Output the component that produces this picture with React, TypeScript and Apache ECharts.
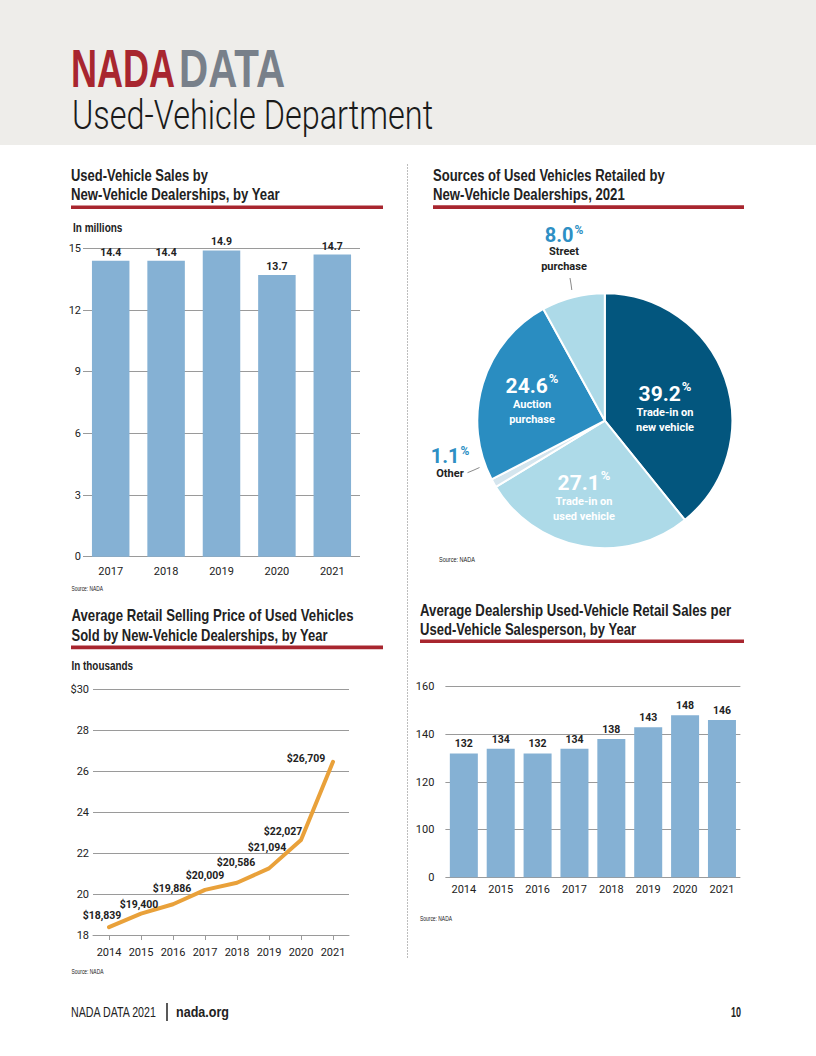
import React, { useEffect, useRef } from "react";
import * as echarts from "echarts";

// ---------- data ----------
const salesYears = ["2017", "2018", "2019", "2020", "2021"];
const salesValues = [14.4, 14.4, 14.9, 13.7, 14.7];

const sourceNames = [
  "Trade-in on\nnew vehicle",
  "Trade-in on\nused vehicle",
  "Other",
  "Auction\npurchase",
  "Street\npurchase",
];
const sourceValues = [39.2, 27.1, 1.1, 24.6, 8.0];

const priceYears = ["2014", "2015", "2016", "2017", "2018", "2019", "2020", "2021"];
// positions of the drawn line (in thousands)
const priceValues = [18.38, 19.04, 19.5, 20.2, 20.55, 21.25, 22.63, 26.45];
// printed labels
const priceLabels = ["$18,839", "$19,400", "$19,886", "$20,009", "$20,586", "$21,094", "$22,027", "$26,709"];

const perYears = ["2014", "2015", "2016", "2017", "2018", "2019", "2020", "2021"];
const perValues = [132, 134, 132, 134, 138, 143, 148, 146];
const perTicks = [0, 100, 120, 140, 160];

// ---------- styling ----------
const HEAD = "'Liberation Sans', Arial, sans-serif";
const LBL = "Roboto, 'Liberation Sans', sans-serif";
const LIGHT = "Roboto, 'Liberation Sans', sans-serif";
const RED = "#A8262F";
const INK = "#222";
const GRID = "#9a9a9a";
const BAR = "#85B1D4";
const PIE_COLORS = ["#03567E", "#ADDAE8", "#D4E5EE", "#2A8DC1", "#ADDAE8"];
const PIE_BLUE = "#2E8FC4";

let measureCtx: CanvasRenderingContext2D | null = null;
function measure(text: string, font: string) {
  if (!measureCtx) measureCtx = document.createElement("canvas").getContext("2d");
  if (!measureCtx) return 0;
  measureCtx.font = font;
  return measureCtx.measureText(text).width;
}

function txt(
  text: string,
  x: number,
  y: number,
  o: { size: number; weight?: string | number; color?: string; family?: string; width?: number; align?: string }
) {
  const family = o.family || HEAD;
  const weight = o.weight ?? "normal";
  const font = `${weight} ${o.size}px ${family}`;
  let sx = 1;
  if (o.width) {
    const w = measure(text, font);
    if (w > 0) sx = o.width / w;
  }
  return {
    type: "text",
    x,
    y,
    scaleX: sx,
    silent: true,
    style: {
      text,
      x: 0,
      y: 0,
      font,
      fill: o.color || INK,
      align: o.align || "left",
      textAlign: o.align || "left",
      verticalAlign: "middle",
      textVerticalAlign: "middle",
    },
  };
}

function rule(x1: number, x2: number, y: number) {
  return { type: "rect", silent: true, shape: { x: x1, y, width: x2 - x1, height: 3.6 }, style: { fill: RED } };
}

// broken axis mapping for the salesperson chart
function toBroken(v: number) {
  for (let i = 0; i < perTicks.length - 1; i++) {
    if (v <= perTicks[i + 1]) return i + (v - perTicks[i]) / (perTicks[i + 1] - perTicks[i]);
  }
  return perTicks.length - 1;
}

// pie label anchors (label block centres)
const PIE_LABEL_POS: number[][] = [
  [665, 404],
  [584, 493],
  [450, 461],
  [532, 396],
  [564, 247],
];
const PIE_LEADERS: Record<number, number[][]> = {
  2: [
    [479.5, 467.5],
    [474, 470],
    [467.5, 472.7],
  ],
  4: [
    [571.8, 290],
    [571, 284],
    [570, 278],
  ],
};
// fine label shifts on the line chart
const PRICE_LABEL_SHIFT: number[][] = [
  [-7, -1],
  [-2, 2],
  [-1, -5],
  [0, -3],
  [-1, -9],
  [-2, -10],
  [-18, 2],
  [-27, 8],
];

function buildOption() {
  const axisLabelStyle = { fontFamily: LBL, fontSize: 11, color: INK };
  const barLabel = {
    show: true,
    position: "top",
    distance: 3,
    fontFamily: LBL,
    fontWeight: "bold",
    fontSize: 10.5,
    color: INK,
  };

  const graphic: any[] = [
    // header band
    { type: "rect", silent: true, shape: { x: 0, y: 0, width: 816, height: 145 }, style: { fill: "#EEEDEA" } },
    txt("NADA", 71, 68, { size: 54, weight: "bold", color: RED, width: 104 }),
    txt("DATA", 179, 68, { size: 54, weight: "bold", color: "#78808A", width: 106 }),
    txt("Used-Vehicle Department", 72, 115, { size: 40, weight: 300, family: LIGHT, color: "#1a1a1a", width: 361 }),

    // separator
    {
      type: "line",
      silent: true,
      shape: { x1: 407.5, y1: 164, x2: 407.5, y2: 959 },
      style: { stroke: "#bdbdbd", lineWidth: 1, lineDash: [2, 1] },
    },

    // top-left chart texts
    txt("Used-Vehicle Sales by", 71, 175.5, { size: 16, weight: "bold", width: 137 }),
    txt("New-Vehicle Dealerships, by Year", 71, 194.5, { size: 16, weight: "bold", width: 209 }),
    rule(71, 383, 205.5),
    txt("In millions", 73, 227.5, { size: 12, weight: "bold", width: 49.5 }),
    txt("Source: NADA", 71.5, 588.5, { size: 7, width: 31.5 }),

    // pie texts
    txt("Sources of Used Vehicles Retailed by", 433, 176, { size: 16, weight: "bold", width: 232 }),
    txt("New-Vehicle Dealerships, 2021", 433, 194.5, { size: 16, weight: "bold", width: 192 }),
    rule(433, 744, 205.3),
    txt("Source: NADA", 439, 559, { size: 7, width: 36 }),

    // line chart texts
    txt("Average Retail Selling Price of Used Vehicles", 71.5, 616, { size: 16, weight: "bold", width: 282.5 }),
    txt("Sold by New-Vehicle Dealerships, by Year", 71.5, 635.5, { size: 16, weight: "bold", width: 256.5 }),
    rule(71, 383, 645.6),
    txt("In thousands", 71.5, 665.5, { size: 12, weight: "bold", width: 61.5 }),
    txt("Source: NADA", 71.5, 971.7, { size: 7, width: 32 }),

    // salesperson chart texts
    txt("Average Dealership Used-Vehicle Retail Sales per", 420, 611, { size: 16, weight: "bold", width: 311.5 }),
    txt("Used-Vehicle Salesperson, by Year", 420, 629.5, { size: 16, weight: "bold", width: 216.5 }),
    rule(420, 744, 639.5),
    txt("Source: NADA", 420, 919, { size: 7, width: 32 }),

    // footer
    txt("NADA DATA 2021", 71, 1012, { size: 14, width: 86 }),
    {
      type: "line",
      silent: true,
      shape: { x1: 167, y1: 1003, x2: 167, y2: 1021 },
      style: { stroke: "#222", lineWidth: 1.5 },
    },
    txt("nada.org", 176, 1012, { size: 14, weight: "bold", width: 53 }),
    txt("10", 741, 1012, { size: 14, weight: "bold", width: 10, align: "right" }),
  ];

  const pieData = sourceValues.map((v, i) => {
    const outside = v < 10;
    return {
      value: v,
      name: sourceNames[i],
      itemStyle: { color: PIE_COLORS[i] },
      label: outside
        ? {
            position: "outside",
            rich: {
              num: { fontFamily: LBL, fontWeight: "bold", fontSize: 20, color: PIE_BLUE, lineHeight: 24, verticalAlign: "bottom" },
              pct: { fontFamily: LBL, fontWeight: "bold", fontSize: 12, color: PIE_BLUE, lineHeight: 12, verticalAlign: "bottom", padding: [0, 0, 9, 1] },
              txt: { fontFamily: LBL, fontWeight: "bold", fontSize: 11, color: INK, lineHeight: 14.5 },
            },
          }
        : {
            position: "inside",
            rich: {
              num: { fontFamily: LBL, fontWeight: "bold", fontSize: 21, color: "#fff", lineHeight: 31, verticalAlign: "bottom" },
              pct: { fontFamily: LBL, fontWeight: "bold", fontSize: 13, color: "#fff", lineHeight: 13, verticalAlign: "bottom", padding: [0, 0, 12, 1] },
              txt: { fontFamily: LBL, fontWeight: "bold", fontSize: 11, color: "#fff", lineHeight: 15 },
            },
          },
      labelLine: outside
        ? { show: true, length: 5, length2: 5, lineStyle: { color: "#8a8a8a", width: 1 } }
        : { show: false },
    };
  });

  return {
    animation: false,
    graphic,
    grid: [
      { left: 83, top: 248.4, width: 277, height: 308.3 },
      { left: 93, top: 689, width: 256, height: 246 },
      { left: 445.4, top: 686.7, width: 295, height: 190.6 },
    ],
    xAxis: [
      {
        gridIndex: 0,
        type: "category",
        data: salesYears,
        axisLine: { show: false },
        axisTick: { show: false },
        axisLabel: { ...axisLabelStyle, margin: 9 },
      },
      {
        gridIndex: 1,
        type: "category",
        data: priceYears,
        boundaryGap: true,
        axisLine: { show: true, lineStyle: { color: GRID } },
        axisTick: { show: true, alignWithLabel: true, length: 5, lineStyle: { color: GRID } },
        axisLabel: { ...axisLabelStyle, margin: 12, interval: 0 },
      },
      {
        gridIndex: 2,
        type: "category",
        data: perYears,
        axisLine: { show: false },
        axisTick: { show: false },
        axisLabel: { ...axisLabelStyle, margin: 7, interval: 0 },
      },
    ],
    yAxis: [
      {
        gridIndex: 0,
        type: "value",
        min: 0,
        max: 15,
        interval: 3,
        axisLine: { show: false },
        axisTick: { show: false },
        axisLabel: { ...axisLabelStyle, margin: 2 },
        splitLine: { lineStyle: { color: GRID } },
      },
      {
        gridIndex: 1,
        type: "value",
        min: 18,
        max: 30,
        interval: 2,
        axisLine: { show: false },
        axisTick: { show: false },
        axisLabel: { ...axisLabelStyle, margin: 4, formatter: (v: number) => (v === 30 ? "$30" : String(v)) },
        splitLine: { lineStyle: { color: GRID } },
      },
      {
        gridIndex: 2,
        type: "value",
        min: 0,
        max: perTicks.length - 1,
        interval: 1,
        axisLine: { show: false },
        axisTick: { show: false },
        axisLabel: { ...axisLabelStyle, margin: 11, formatter: (v: number) => String(perTicks[Math.round(v)]) },
        splitLine: { lineStyle: { color: GRID } },
      },
    ],
    series: [
      {
        type: "bar",
        xAxisIndex: 0,
        yAxisIndex: 0,
        data: salesValues,
        barWidth: 37.5,
        itemStyle: { color: BAR },
        label: { ...barLabel, formatter: (p: any) => p.value.toFixed(1) },
      },
      {
        type: "line",
        xAxisIndex: 1,
        yAxisIndex: 1,
        data: priceValues,
        symbol: "circle",
        symbolSize: 1,
        showSymbol: true,
        itemStyle: { color: "#E9A13A" },
        lineStyle: { color: "#E9A13A", width: 4, cap: "round", join: "round" },
        label: {
          show: true,
          position: "top",
          distance: 5,
          fontFamily: LBL,
          fontWeight: "bold",
          fontSize: 10.5,
          color: INK,
          formatter: (p: any) => priceLabels[p.dataIndex],
        },
        labelLayout: (p: any) => {
          const s = PRICE_LABEL_SHIFT[p.dataIndex] || [0, 0];
          return { dx: s[0], dy: s[1] };
        },
      },
      {
        type: "bar",
        xAxisIndex: 2,
        yAxisIndex: 2,
        data: perValues.map(toBroken),
        barWidth: 28,
        itemStyle: { color: BAR },
        label: { ...barLabel, distance: 4, formatter: (p: any) => String(perValues[p.dataIndex]) },
      },
      {
        type: "pie",
        center: [604.8, 420.7],
        radius: 127.5,
        startAngle: 90,
        clockwise: true,
        avoidLabelOverlap: false,
        itemStyle: { borderColor: "#fff", borderWidth: 2 },
        label: {
          show: true,
          formatter: (p: any) => {
            const lines = String(p.name)
              .split("\n")
              .map((l: string) => `{txt|${l}}`)
              .join("\n");
            return `{num|${Number(p.value).toFixed(1)}}{pct|%}\n${lines}`;
          },
        },
        labelLayout: (p: any) => {
          const pos = PIE_LABEL_POS[p.dataIndex];
          const res: any = { x: pos[0], y: pos[1], align: "center", verticalAlign: "middle" };
          if (PIE_LEADERS[p.dataIndex]) res.labelLinePoints = PIE_LEADERS[p.dataIndex];
          return res;
        },
        data: pieData,
      },
    ],
  };
}

export default function App() {
  const ref = useRef<HTMLDivElement>(null);
  useEffect(() => {
    if (!ref.current) return;
    const chart = echarts.init(ref.current, null, { renderer: "svg", width: 816, height: 1056 });
    chart.setOption(buildOption() as any);
    return () => chart.dispose();
  }, []);
  return (
    <div
      ref={ref}
      style={{ position: "absolute", left: 0, top: 0, width: 816, height: 1056, background: "#fff" }}
    />
  );
}
